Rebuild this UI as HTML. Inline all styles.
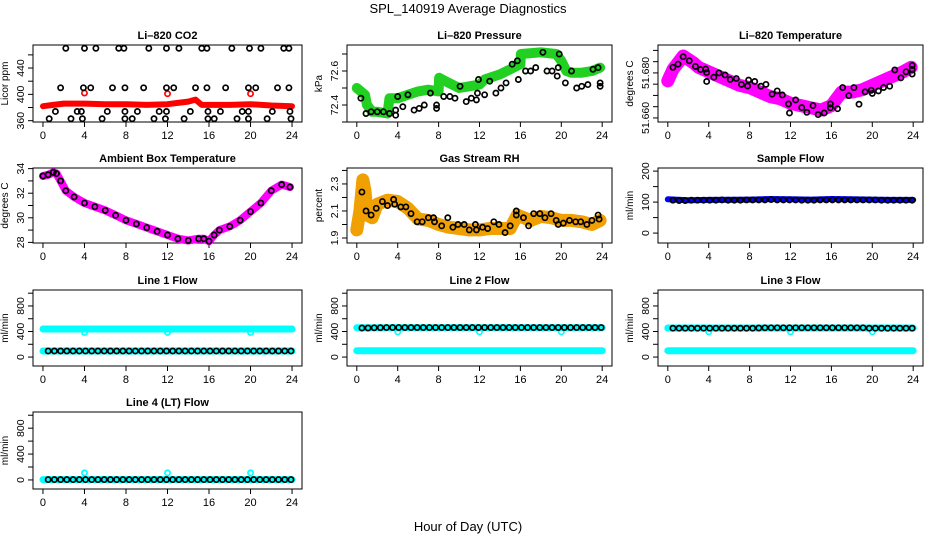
<!DOCTYPE html>
<html><head><meta charset="utf-8"><style>
html,body{margin:0;padding:0;background:#fff;}
svg{display:block;font-family:"Liberation Sans",sans-serif;}
</style></head><body>
<svg id="chart" width="936" height="540" viewBox="0 0 936 540" xmlns="http://www.w3.org/2000/svg">
<rect x="0" y="0" width="936" height="540" fill="#fff"/>
<text x="468" y="13" text-anchor="middle" font-size="13">SPL_140919  Average Diagnostics</text>
<text x="468" y="531" text-anchor="middle" font-size="13">Hour of Day (UTC)</text>
</svg>
<script>
const xTicks=[0,4,8,12,16,20,24];
// CO2
const co2BlackHours=[2.2,4.0,5.1,7.3,7.8,10.2,11.9,13.1,15.3,15.8,18.2,19.9,21.0,23.2,23.7, 1.7,3.9,4.6,6.7,7.9,9.7,11.9,12.6,14.7,15.8,17.6,19.8,20.5,22.6,23.7, 1.2,3.3,3.7,6.2,7.9,9.1,11.2,11.9,14.2,15.9,17.1,19.2,19.8,22.1,23.8, 0.6,2.7,3.8,5.7,7.9,8.6,10.7,11.8,13.6,15.9,16.5,18.7,19.8,21.6,23.9];
const co2BlackVals=[470,470,470,470,470,470,470,470,470,470,470,470,470,470,470, 410,410,410,410,410,410,410,410,410,410,410,410,410,410,410, 374,374,374,374,374,374,374,374,374,374,374,374,374,374,374, 363,363,363,363,363,363,363,363,363,363,363,363,363,363,363];
const co2RedHours=[0,1,2,4,6,8,10,12,13,14,14.7,15.3,16,18,20,22,24];
const co2RedVals=[382,384,386,386,385,385,384,385,387,389,392,384,384,384,385,383,382];
const co2RedDotHours=[4,12,20];
const co2RedDotVals=[402,401,401];
// Pressure
const presGreenHours=[0,0.8,1.0,1.5,2,3,3.2,4,5,6,7,8,8.05,9,10,11,12,12.5,13,14,15,16,16.05,18,19.5,20,20.5,21,22,23,23.8];
const presGreenVals=[72.5,72.46,72.40,72.36,72.36,72.35,72.44,72.44,72.46,72.48,72.49,72.48,72.56,72.53,72.50,72.51,72.52,72.55,72.56,72.58,72.61,72.64,72.70,72.71,72.70,72.66,72.60,72.59,72.59,72.60,72.62];
const presBlackHours=[0.4,0.9,1.4,2.0,2.6,3.2,3.8,3.8,4.0,4.5,5.0,5.6,6.1,6.6,7.2,7.8,7.8,8.5,9.1,9.6,10.1,10.7,11.2,11.7,11.8,11.9,12.5,13.0,13.6,14.1,14.6,15.2,15.7,15.8,16.5,17.0,17.5,18.2,18.6,19.1,19.6,19.7,19.8,20.4,21.0,21.5,22.0,22.6,23.1,23.6,23.8,23.8];
const presBlackVals=[72.44,72.35,72.36,72.36,72.36,72.35,72.34,72.37,72.45,72.39,72.46,72.37,72.38,72.40,72.47,72.40,72.38,72.45,72.45,72.44,72.51,72.42,72.44,72.43,72.47,72.55,72.46,72.54,72.47,72.50,72.53,72.64,72.66,72.55,72.60,72.60,72.62,72.71,72.60,72.60,72.57,72.62,72.70,72.53,72.60,72.50,72.51,72.52,72.61,72.62,72.53,72.51];
// Li-820 temperature
const ltHours=[0,0.5,1.5,2.5,3,4,5,6,7,8,9,10,11,12,13,14,15,15.5,16,16.5,17,18,19,20,21,22,23,23.8];
const ltVals=[51.6765,51.6815,51.6875,51.6845,51.6825,51.6805,51.6785,51.6765,51.6745,51.6735,51.6715,51.6695,51.6685,51.6665,51.6655,51.6645,51.6635,51.6645,51.6655,51.6685,51.6715,51.6715,51.6725,51.6745,51.6765,51.6785,51.6805,51.6825];
const ltBlackHours=[0.5,1.0,1.5,2.1,2.7,3.2,3.7,3.8,3.8,4.5,5.0,5.6,6.1,6.7,7.2,7.8,7.9,8.5,9.1,9.6,10.2,10.7,11.2,11.8,11.9,12.5,13.1,13.6,14.2,14.7,15.3,15.9,15.9,16.6,17.1,17.7,18.2,18.7,19.3,19.9,20.0,20.6,21.1,21.7,22.2,22.8,23.3,23.9,23.9,23.9];
const ltBlackVals=[51.6825,51.6839,51.6872,51.6854,51.6829,51.6815,51.6817,51.6802,51.6762,51.6781,51.68,51.6791,51.6771,51.6775,51.6749,51.6742,51.6768,51.6762,51.6741,51.6749,51.6706,51.672,51.6702,51.6662,51.6622,51.668,51.6646,51.6625,51.6655,51.6615,51.6622,51.6645,51.6662,51.6641,51.6735,51.6699,51.6735,51.6661,51.6716,51.6723,51.6709,51.672,51.6735,51.6741,51.6813,51.6778,51.6805,51.6815,51.6833,51.6795];
// Ambient box temperature
const abHours=[0,0.5,1,1.3,1.7,2.2,3,4,5,6,7,8,9,10,11,12,13,14,15,15.5,16,16.5,17,18,19,20,21,22,23,23.8];
const abVals=[33.4,33.5,33.7,33.6,33.0,32.2,31.7,31.2,30.9,30.6,30.2,29.8,29.5,29.2,28.9,28.6,28.3,28.15,28.3,28.3,28.1,28.6,29.0,29.3,29.8,30.5,31.2,32.2,32.7,32.5];
// Gas stream RH
const rhHours=[0,0.3,0.6,0.8,1,1.5,2,3,4,5,6,7,8,9,10,11,12,13,14,15,15.7,16,17,18,19,20,21,22,23,23.8];
const rhVals=[1.96,2.1,2.33,2.25,2.07,2.05,2.15,2.18,2.17,2.12,2.04,2.03,2.0,1.98,1.97,1.96,1.96,1.97,1.97,1.97,2.07,2.06,2.03,2.06,2.05,2.03,2.03,2.02,2.0,2.03];
const rhBlackHours=[0.5,0.9,1.4,1.9,2.5,3.0,3.6,3.7,4.3,4.8,5.3,5.9,6.4,7.0,7.5,7.6,8.3,8.9,9.4,9.9,10.5,11.0,11.6,11.7,12.3,12.8,13.4,13.9,14.5,15.0,15.6,15.6,16.3,16.8,17.3,17.9,18.4,19.0,19.5,19.7,20.2,20.8,21.4,21.9,22.5,23.0,23.6,23.7];
const rhBlackVals=[2.24,2.10,2.07,2.12,2.17,2.14,2.185,2.15,2.13,2.13,2.08,2.02,2.02,2.05,2.05,2.02,1.99,2.05,1.98,2.0,2.0,1.96,2.0,1.96,1.98,1.97,2.02,2.0,1.94,1.99,2.07,2.10,2.05,1.99,2.08,2.08,2.05,2.08,2.03,2.0,2.01,2.03,2.02,2.02,2.0,2.03,2.07,2.04];
// Flows
const flowHours=[0.5,1.1,1.7,2.3,2.9,3.5,4.1,4.7,5.3,5.9,6.5,7.1,7.7,8.3,8.9,9.5,10.1,10.7,11.3,11.9,12.5,13.1,13.7,14.3,14.9,15.5,16.1,16.7,17.3,17.9,18.5,19.1,19.7,20.3,20.9,21.5,22.1,22.7,23.3,23.9];
const sampleBlueHours=[0,2,4,8,10,12,14,16,18,20,22,24];
const sampleBlueVals=[109,106,107,108,110,109,108,110,109,108,107,107];
const sampleBlackVals=[106,105,105,106,106,106,106,106,107,106,106,106,107,107,107,107,108,107,107,107,107,106,106,106,107,107,107,107,107,107,107,107,107,107,106,106,106,106,106,106];
const line1CyanHours=[0,24];
const line1CyanHigh=[440,440];
const line1CyanLow=[95,95];
const line1Black=[95,95,95,95,95,95,95,95,95,95,95,95,95,95,95,95,95,95,95,95,95,95,95,95,95,95,95,95,95,95,95,95,95,95,95,95,95,95,95,95];
const line2CyanHigh=[460,460];
const line2CyanLow=[100,100];
const line2Black=[455,455,458,460,462,462,462,462,462,462,462,462,462,462,462,462,462,462,462,462,462,462,462,462,462,462,462,462,462,462,462,462,462,462,462,462,462,462,462,462];
const line3CyanHigh=[455,455];
const line3CyanLow=[100,100];
const line3Black=[452,452,452,452,452,452,452,452,452,452,452,452,452,452,455,458,458,458,458,458,458,458,458,458,458,458,458,458,458,458,458,458,452,452,452,452,452,452,452,452];
const line4CyanBase=[5,5];
const line4Black=[5,5,5,5,5,5,5,5,5,5,5,5,5,5,5,5,5,5,5,5,5,5,5,5,5,5,5,5,5,5,5,5,5,5,5,5,5,5,5,5];
const dipHours=[4,12,20];
const line1Dips=[385,385,385];
const line2Dips=[395,395,395];
const line4Bumps=[110,110,110];

const NS='http://www.w3.org/2000/svg';
const svg=document.getElementById('chart');
function el(tag,attrs,parent){const e=document.createElementNS(NS,tag);for(const k in attrs)e.setAttribute(k,attrs[k]);(parent||svg).appendChild(e);return e;}

function panel(p){
  const g=el('g',{});
  
  
  const xl=[-0.96,24.96];
  const sx=v=>p.x0+(v-xl[0])/(xl[1]-xl[0])*(p.x1-p.x0);
  const sy=v=>p.y1-(v-p.ylim[0])/(p.ylim[1]-p.ylim[0])*(p.y1-p.y0);
  const t=el('text',{x:(p.x0+p.x1)/2,y:p.y0-6,'text-anchor':'middle','font-size':11,'font-weight':'bold'},g);
  t.textContent=p.title;
  
  
  const yl=el('text',{x:0,y:0,'text-anchor':'middle','font-size':10,transform:`translate(${p.x0-25},${(p.y0+p.y1)/2}) rotate(-90)`},g);
  yl.textContent=p.ylab;
  
  
  const axes=el('g',{stroke:'#000','stroke-width':1,fill:'none'},g);
  
  
  xTicks.forEach(v=>{
    const tk=el('line',{x1:sx(v),x2:sx(v),y1:p.y1,y2:p.y1+5},axes);
    
    
    const lb=el('text',{x:sx(v),y:p.y1+17,'text-anchor':'middle','font-size':11,fill:'#000',stroke:'none'},g);
    lb.textContent=String(v);
    
    
  });
  p.yTicks.forEach(v=>{
    const tk=el('line',{x1:p.x0-5,x2:p.x0,y1:sy(v),y2:sy(v)},axes);
    
    
  });
  p.yLabels.forEach(v=>{
    const lb=el('text',{x:0,y:0,'text-anchor':'middle','font-size':10.5,transform:`translate(${p.x0-9},${sy(v)}) rotate(-90)`},g);
    lb.textContent=p.fmt?p.fmt(v):String(v);
    
    
  });
  const fr=el('rect',{x:p.x0,y:p.y0,width:p.x1-p.x0,height:p.y1-p.y0},axes);
  
  
  return {sx,sy,g};
}
function band(P,hours,vals,color,w,name){
  const pts=hours.map((h,i)=>P.sx(h).toFixed(1)+','+P.sy(vals[i]).toFixed(1)).join(' ');
  const pl=el('polyline',{points:pts,fill:'none',stroke:color,'stroke-width':w,'stroke-linejoin':'round','stroke-linecap':'round'},P.g);
  
  
}
function pts(P,hours,vals,color,name,r,sw){
  const g=el('g',{fill:'none',stroke:color,'stroke-width':sw||1.7},P.g);
  
  
  hours.forEach((h,i)=>{
    const c=el('circle',{cx:P.sx(h),cy:P.sy(vals[i]),r:r||2.6},g);
    
    
  });
}
const C1=[33,302],C2=[347,612],C3=[658,923];
const R1=[45,122],R2=[168,243],R3=[290,366],R4=[412,489];
const flowTicks=[0,200,400,600,800,1000],flowLabels=[0,400,800],flowLim=[-140,1050];

let P=panel({name:'co2-panel',x0:C1[0],x1:C1[1],y0:R1[0],y1:R1[1],ylim:[358,475],yTicks:[360,380,400,420,440,460],yLabels:[360,400,440],title:'Li\u2013820 CO2',ylab:'Licor ppm'});
band(P,co2RedHours,co2RedVals,'#ff0000',6,'co2-red-band');
pts(P,co2RedDotHours,co2RedDotVals,'#ff0000','co2-red-points');
pts(P,co2BlackHours,co2BlackVals,'#000','co2-black-points');

P=panel({name:'pressure-panel',x0:C2[0],x1:C2[1],y0:R1[0],y1:R1[1],ylim:[72.3,72.753],yTicks:[72.3,72.4,72.5,72.6,72.7],yLabels:[72.4,72.6],fmt:v=>v.toFixed(1),title:'Li\u2013820 Pressure',ylab:'kPa'});
band(P,presGreenHours,presGreenVals,'#22d022',10,'pressure-green-band');
pts(P,presBlackHours,presBlackVals,'#000','pressure-black-points');

P=panel({name:'li820-temperature-panel',x0:C3[0],x1:C3[1],y0:R1[0],y1:R1[1],ylim:[51.6582,51.6924],yTicks:[51.66,51.665,51.67,51.675,51.68,51.685,51.69],yLabels:[51.66,51.68],fmt:v=>v.toFixed(3),title:'Li\u2013820 Temperature',ylab:'degrees C'});
band(P,ltHours,ltVals,'#ff00ff',13,'li820-temp-magenta-band');
pts(P,ltBlackHours,ltBlackVals,'#000','li820-temp-black-points');

P=panel({name:'ambient-box-temperature-panel',x0:C1[0],x1:C1[1],y0:R2[0],y1:R2[1],ylim:[27.95,34.05],yTicks:[28,29,30,31,32,33,34],yLabels:[28,30,32,34],title:'Ambient Box Temperature',ylab:'degrees C'});
band(P,abHours,abVals,'#ff00ff',8,'ambient-magenta-band');
pts(P,abHours,abVals,'#000','ambient-black-points');

P=panel({name:'gas-stream-rh-panel',x0:C2[0],x1:C2[1],y0:R2[0],y1:R2[1],ylim:[1.863,2.418],yTicks:[1.9,2.0,2.1,2.2,2.3,2.4],yLabels:[1.9,2.1,2.3],fmt:v=>v.toFixed(1),title:'Gas Stream RH',ylab:'percent'});
band(P,rhHours,rhVals,'#f0a000',13,'rh-orange-band');
pts(P,rhBlackHours,rhBlackVals,'#000','rh-black-points');

P=panel({name:'sample-flow-panel',x0:C3[0],x1:C3[1],y0:R2[0],y1:R2[1],ylim:[-32,210],yTicks:[0,50,100,150,200],yLabels:[0,100,200],title:'Sample Flow',ylab:'ml/min'});
band(P,sampleBlueHours,sampleBlueVals,'#0000ff',6,'sample-blue-band');
pts(P,flowHours,sampleBlackVals,'#000','sample-black-points');

P=panel({name:'line1-flow-panel',x0:C1[0],x1:C1[1],y0:R3[0],y1:R3[1],ylim:flowLim,yTicks:flowTicks,yLabels:flowLabels,title:'Line 1 Flow',ylab:'ml/min'});
band(P,line1CyanHours,line1CyanHigh,'#00ffff',7,'line1-cyan-high');
band(P,line1CyanHours,line1CyanLow,'#00ffff',7,'line1-cyan-low');
pts(P,dipHours,line1Dips,'#00ffff','line1-cyan-dips');
pts(P,flowHours,line1Black,'#000','line1-black-points');

P=panel({name:'line2-flow-panel',x0:C2[0],x1:C2[1],y0:R3[0],y1:R3[1],ylim:flowLim,yTicks:flowTicks,yLabels:flowLabels,title:'Line 2 Flow',ylab:'ml/min'});
band(P,line1CyanHours,line2CyanHigh,'#00ffff',7,'line2-cyan-high');
band(P,line1CyanHours,line2CyanLow,'#00ffff',7,'line2-cyan-low');
pts(P,dipHours,line2Dips,'#00ffff','line2-cyan-dips');
pts(P,flowHours,line2Black,'#000','line2-black-points');

P=panel({name:'line3-flow-panel',x0:C3[0],x1:C3[1],y0:R3[0],y1:R3[1],ylim:flowLim,yTicks:flowTicks,yLabels:flowLabels,title:'Line 3 Flow',ylab:'ml/min'});
band(P,line1CyanHours,line3CyanHigh,'#00ffff',7,'line3-cyan-high');
band(P,line1CyanHours,line3CyanLow,'#00ffff',7,'line3-cyan-low');
pts(P,dipHours,line2Dips,'#00ffff','line3-cyan-dips');
pts(P,flowHours,line3Black,'#000','line3-black-points');

P=panel({name:'line4-flow-panel',x0:C1[0],x1:C1[1],y0:R4[0],y1:R4[1],ylim:flowLim,yTicks:flowTicks,yLabels:flowLabels,title:'Line 4 (LT) Flow',ylab:'ml/min'});
band(P,line1CyanHours,line4CyanBase,'#00ffff',7,'line4-cyan-base');
pts(P,dipHours,line4Bumps,'#00ffff','line4-cyan-bumps');
pts(P,flowHours,line4Black,'#000','line4-black-points');
</script>
</body></html>
